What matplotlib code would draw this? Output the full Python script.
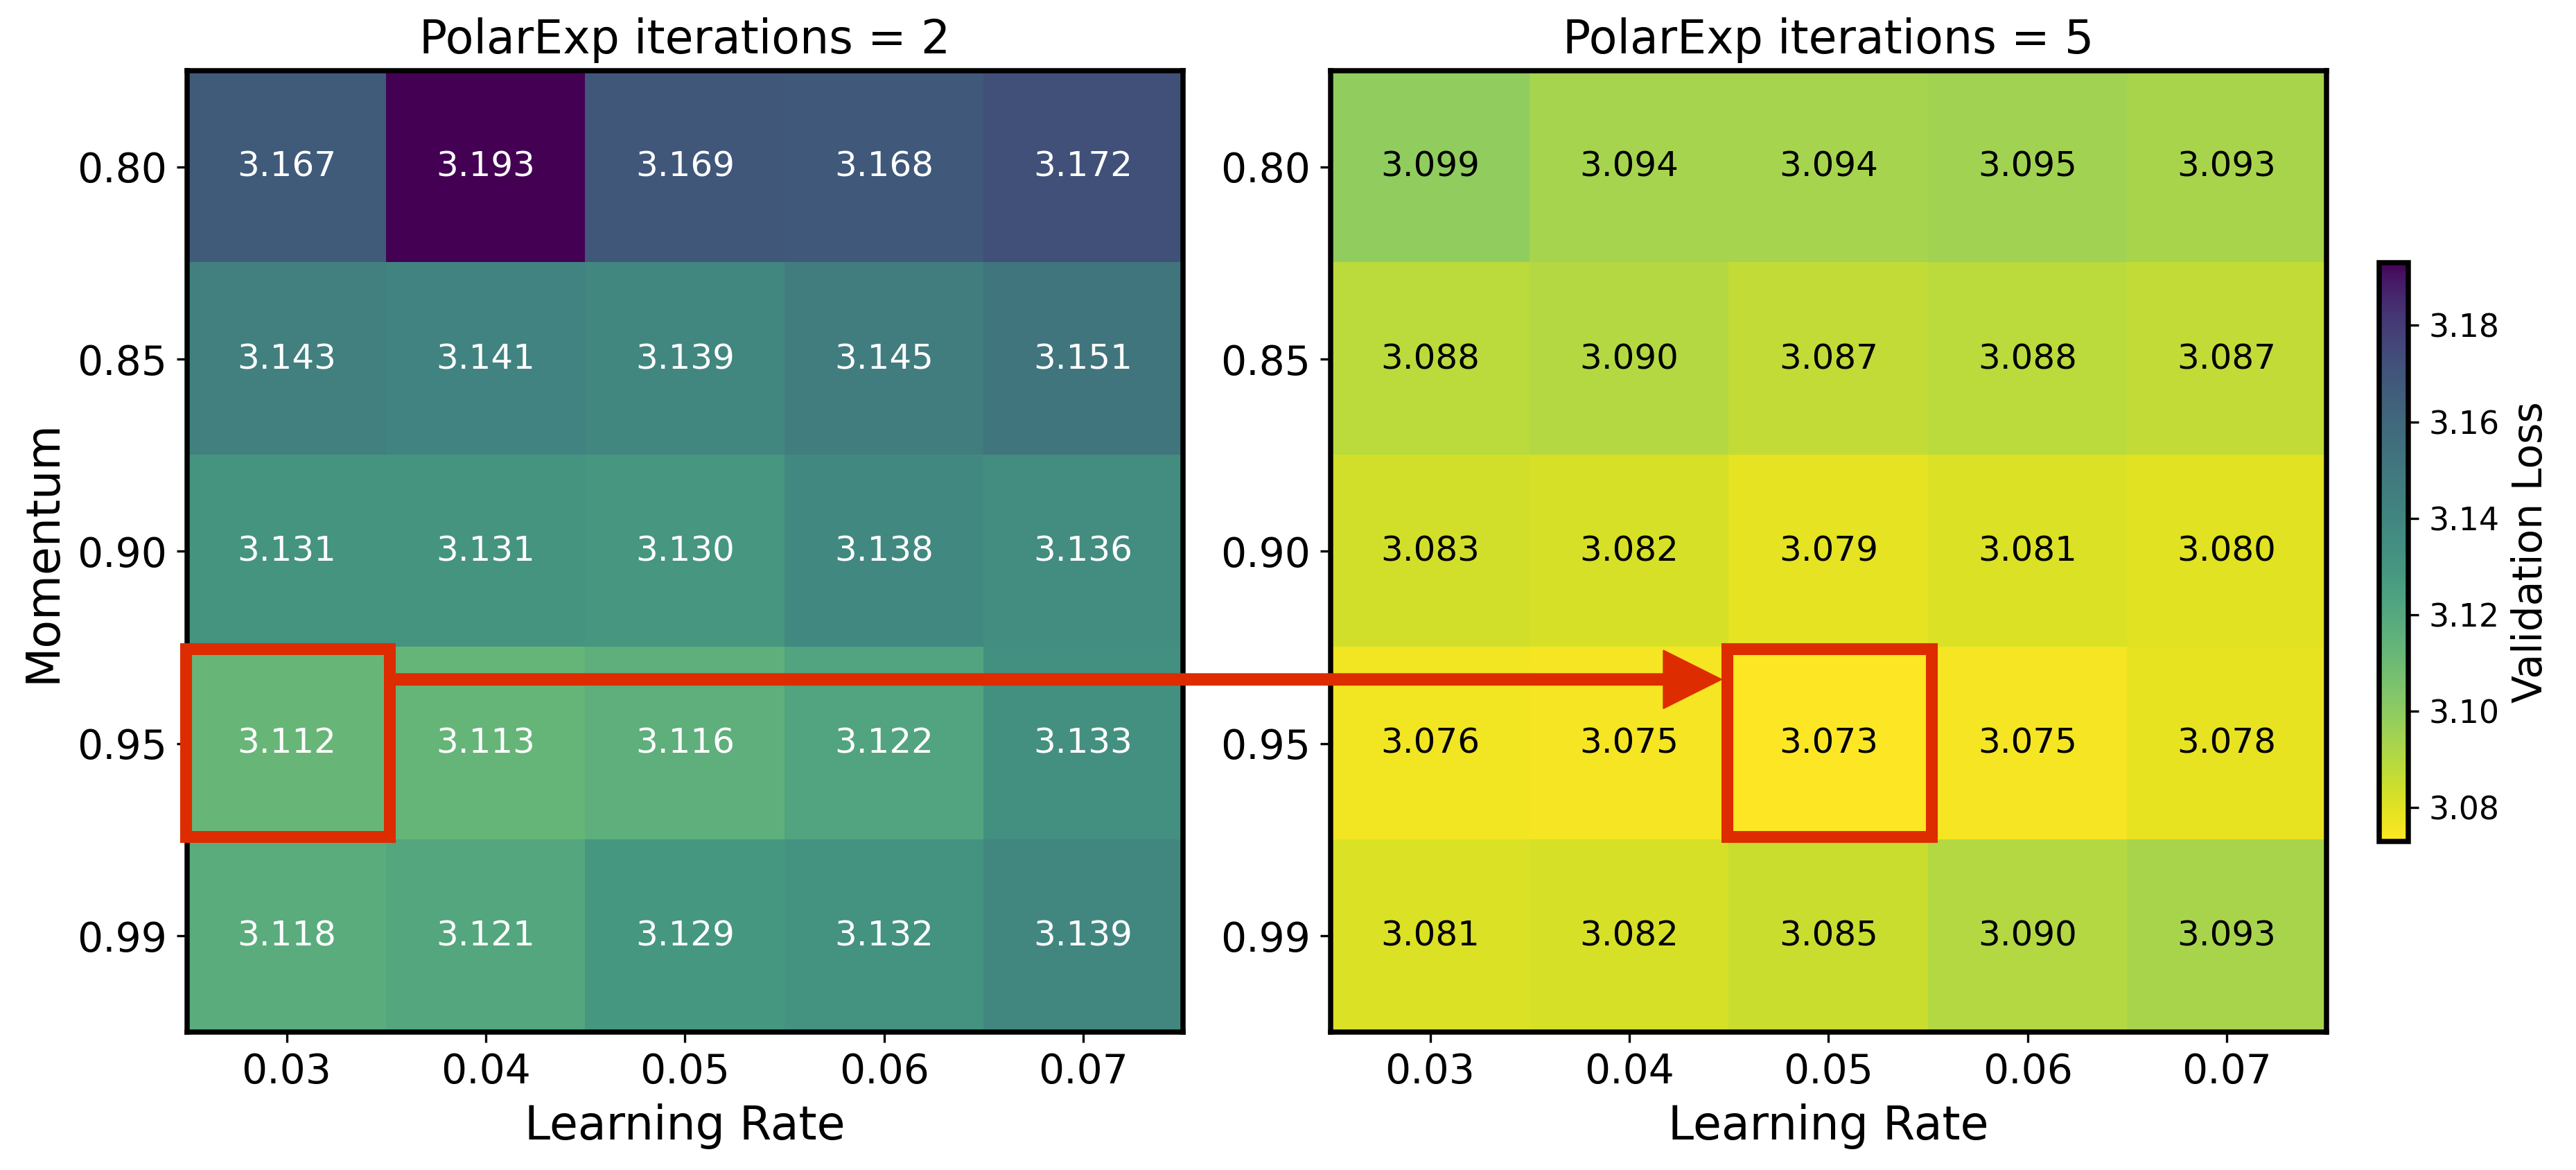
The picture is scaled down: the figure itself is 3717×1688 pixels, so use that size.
import numpy as np
import matplotlib
matplotlib.use("Agg")
import matplotlib.pyplot as plt
from matplotlib.patches import Rectangle
from matplotlib.colors import ListedColormap

learning_rates = ["0.03", "0.04", "0.05", "0.06", "0.07"]
momentums = ["0.80", "0.85", "0.90", "0.95", "0.99"]

loss_iter2 = [
    [3.167, 3.193, 3.169, 3.168, 3.172],
    [3.143, 3.141, 3.139, 3.145, 3.151],
    [3.131, 3.131, 3.130, 3.138, 3.136],
    [3.112, 3.113, 3.116, 3.122, 3.133],
    [3.118, 3.121, 3.129, 3.132, 3.139],
]
loss_iter5 = [
    [3.099, 3.094, 3.094, 3.095, 3.093],
    [3.088, 3.090, 3.087, 3.088, 3.087],
    [3.083, 3.082, 3.079, 3.081, 3.080],
    [3.076, 3.075, 3.073, 3.075, 3.078],
    [3.081, 3.082, 3.085, 3.090, 3.093],
]
titles = ["PolarExp iterations = 2", "PolarExp iterations = 5"]
text_colors = ["white", "black"]
best_cells = [(3, 0), (3, 2)]  # (row, col)

RED = "#dd2c00"

# slightly muted viridis (reversed), matching the reference rendering
vir = plt.get_cmap("viridis")
cols = []
for v in np.linspace(0, 1, 256):
    u = 1.0 - v
    t = u ** 0.8
    c = np.array(vir(t)[:3])
    lum = 0.3 * c[0] + 0.59 * c[1] + 0.11 * c[2]
    s = 0.42 * np.sin(np.pi * t)
    c = c + s * (lum - c)
    cols.append(np.clip(c, 0, 1))
cmap = ListedColormap(cols)

fig = plt.figure(figsize=(3717 / 300, 1688 / 300), dpi=300)
ax1 = fig.add_axes([0.0726, 0.1179, 0.3866, 0.8217])
ax2 = fig.add_axes([0.5165, 0.1179, 0.3866, 0.8217])
cax = fig.add_axes([0.9235, 0.281, 0.0115, 0.4945])

all_vals = np.array(loss_iter2 + loss_iter5)
vmin, vmax = all_vals.min(), all_vals.max()

im = None
for ax, data, title, tc, (br, bc) in zip([ax1, ax2], [loss_iter2, loss_iter5], titles,
                                         text_colors, best_cells):
    arr = np.array(data)
    im = ax.imshow(arr, cmap=cmap, vmin=vmin, vmax=vmax, aspect="auto")
    for i in range(arr.shape[0]):
        for j in range(arr.shape[1]):
            ax.text(j, i, f"{arr[i, j]:.3f}", ha="center", va="center",
                    color=tc, fontsize=12)
    ax.set_xticks(range(len(learning_rates)))
    ax.set_xticklabels(learning_rates, fontsize=14)
    ax.set_yticks(range(len(momentums)))
    ax.set_yticklabels(momentums, fontsize=14)
    ax.set_xlabel("Learning Rate", fontsize=16)
    ax.set_title(title, fontsize=16)
    for s in ax.spines.values():
        s.set_linewidth(1.8)
    rect = Rectangle((bc - 0.508, br - 0.492), 1.026, 0.974, fill=False,
                     edgecolor=RED, linewidth=4.1, clip_on=False, zorder=5)
    ax.add_patch(rect)

ax1.set_ylabel("Momentum", fontsize=16)

ax2.annotate("", xy=(1.462, 2.666), xycoords=ax2.transData,
             xytext=(0.54, 2.666), textcoords=ax1.transData,
             arrowprops=dict(facecolor=RED, edgecolor=RED, width=3.8,
                             headwidth=20, headlength=20, shrink=0, linewidth=0.5),
             annotation_clip=False, zorder=6)

cb = fig.colorbar(im, cax=cax)
cb.outline.set_linewidth(1.8)
cb.set_ticks([3.08, 3.10, 3.12, 3.14, 3.16, 3.18])
cb.ax.tick_params(labelsize=11)
cb.set_label("Validation Loss", fontsize=14)

fig.savefig("out.png", dpi=300)
